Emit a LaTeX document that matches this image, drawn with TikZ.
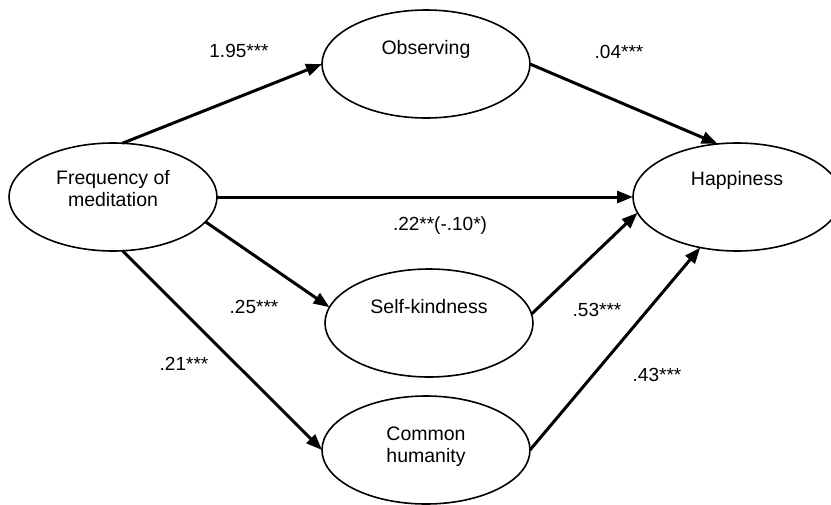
\documentclass[tikz,border=0pt]{standalone}
\usepackage{fontspec}
\setmainfont{Liberation Sans}
\usetikzlibrary{shapes, arrows.meta, positioning}

\begin{document}
\begin{tikzpicture}[x=1pt, y=-1pt,
    var/.style={draw, ellipse, line width=1.6pt, minimum width=208pt, minimum height=108pt, inner sep=0pt, outer sep=0pt},
    vartext/.style={align=center, font=\fontsize{19.5}{22}\selectfont, inner sep=0pt},
    coef/.style={font=\fontsize{19}{22}\selectfont, inner sep=0pt},
    link/.style={-{Triangle[length=16pt, width=12pt]}, line width=3pt}]
    \useasboundingbox (0,0) rectangle (831,504);

    \node[var] (freq) at (113,197) {};
    \node[var] (obs) at (426,64) {};
    \node[var] (happy) at (737,197) {};
    \node[var] (self) at (429,323) {};
    \node[var] (common) at (426,450) {};

    \node[vartext] (freq-t) at ([yshift=8pt]freq.center) {Frequency of\\meditation};
    \node[vartext] (obs-t) at ([yshift=15pt]obs.center) {Observing};
    \node[vartext] (happy-t) at ([yshift=17pt]happy.center) {Happiness};
    \node[vartext] (self-t) at ([yshift=16pt]self.center) {Self-kindness};
    \node[vartext] (common-t) at ([yshift=3pt]common.center) {Common\\humanity};

    \draw[link] (freq.80) -- (obs.west);
    \draw[link] (obs.east) -- (happy.110);
    \draw[link] (freq.east) -- (happy.west);
    \draw[link] (freq.-15) -- (self.171);
    \draw[link] (self.5) -- (happy.189);
    \draw[link] (freq.280) -- (common.west);
    \draw[link] (common.east) -- (happy.234);

    \node[coef] (c-fo) at (239,51) {1.95***};
    \node[coef] (c-oh) at (619,52) {.04***};
    \node[coef] (c-fh) at (440,226) {.22**(-.10*)};
    \node[coef] (c-fs) at (254,307) {.25***};
    \node[coef] (c-fc) at (184,364) {.21***};
    \node[coef] (c-sh) at (597,310) {.53***};
    \node[coef] (c-ch) at (657,375) {.43***};
\end{tikzpicture}
\end{document}
